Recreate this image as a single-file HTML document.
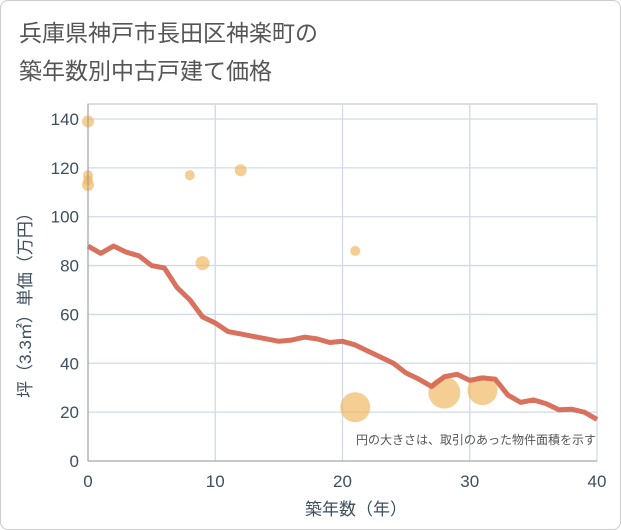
<!DOCTYPE html>
<html><head><meta charset="utf-8"><style>
body{margin:0;background:#fff;}
#wrap{width:619px;height:528px;border:1px solid #ccc;border-radius:8px;position:relative;overflow:hidden;background:#fff}
text{font-family:"Liberation Sans","Noto Sans CJK JP",sans-serif;}
</style></head><body>
<div id="wrap">
<svg id="svg" width="621" height="530">
<text x="18" y="40" font-size="23" fill="#555">兵庫県神戸市長田区神楽町の</text>
<text x="18" y="78" font-size="23" fill="#555">築年数別中古戸建て価格</text>
<g id="grid"></g><g id="bubbles"></g><g id="line"></g><g id="axes"></g>
<text x="595" y="443" font-size="12" fill="#555" text-anchor="end">円の大きさは、取引のあった物件面積を示す</text>
<text x="355" y="514" font-size="17" fill="#3d4f60" text-anchor="middle">築年数（年）</text>
<text transform="translate(30,300) rotate(-90)" font-size="17" fill="#3d4f60" text-anchor="middle">坪（3.3㎡）単価（万円）</text>
</svg></div>
<script>
const years=[0,1,2,3,4,5,6,7,8,9,10,11,12,13,14,15,16,17,18,19,20,21,22,23,24,25,26,27,28,29,30,31,32,33,34,35,36,37,38,39,40];
const avgPrice=[88,85,88,85.5,84,80,79,71,66,59,56.5,53,52,51,50,49,49.5,50.7,50,48.5,49,47.5,45,42.5,40,36,33.5,30.5,34.5,35.5,33,34,33.5,27,24,25,23.5,21,21.2,20,17];
const bubbleAge=[0,0,0,0,8,12,9,21,21,28,31];
const bubblePrice=[139,117,115,113,117,119,81,86,22,28,29];
const bubbleSize=[6,5,5,6,5,6,7,5,15,16,15];
const xTicks=[0,10,20,30,40];
const yTicks=[0,20,40,60,80,100,120,140];
const X=v=>87+v*(596-87)/40, Y=v=>460-v*(460-118)/140;
const NS='http://www.w3.org/2000/svg';
function mk(p,t,a){const e=document.createElementNS(NS,t);for(const k in a)e.setAttribute(k,a[k]);document.getElementById(p).appendChild(e);return e;}
let e=mk('grid','rect',{x:87,y:103,width:509,height:357,fill:'#fff',stroke:'#bbb'});


yTicks.forEach(t=>{let l=mk('grid','line',{x1:87,x2:596,y1:Y(t),y2:Y(t),stroke:'#cfdbe8','stroke-width':1.3});


let s=mk('axes','text',{x:78,y:Y(t)+6,'font-size':17,fill:'#3d4f60','text-anchor':'end'});s.textContent=t;

});
xTicks.forEach(t=>{let l=mk('grid','line',{x1:X(t),x2:X(t),y1:103,y2:460,stroke:'#cfdbe8','stroke-width':1.3});


let s=mk('axes','text',{x:X(t),y:486,'font-size':17,fill:'#3d4f60','text-anchor':'middle'});s.textContent=t;

});
let ax=mk('axes','line',{x1:87,x2:87,y1:103,y2:460,stroke:'#999'});


let ax2=mk('axes','line',{x1:87,x2:596,y1:460,y2:460,stroke:'#999'});


bubbleAge.forEach((a,i)=>{let c=mk('bubbles','circle',{cx:X(a),cy:Y(bubblePrice[i]),r:bubbleSize[i],fill:'rgba(240,180,90,0.65)'});

});
let p=mk('line','polyline',{points:years.map((y,i)=>X(y)+','+Y(avgPrice[i])).join(' '),fill:'none',stroke:'#d66a55','stroke-width':5,'stroke-linejoin':'round',opacity:0.95});


</script>
</body></html>
